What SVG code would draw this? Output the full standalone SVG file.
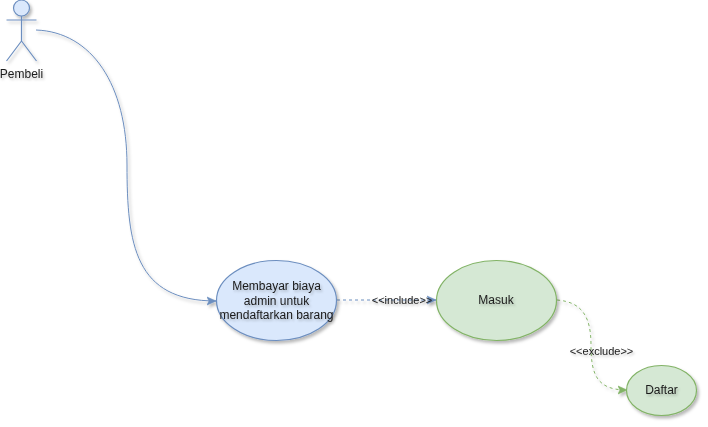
<svg xmlns="http://www.w3.org/2000/svg" width="708" height="427" viewBox="0 0 708 427">
<style>
text{font-family:"Liberation Sans",Arial,sans-serif;font-size:12px;fill:#1a1a1a;text-anchor:middle;filter:url(#ts)}
.blue{fill:#dae8fc;stroke:#6c8ebf;stroke-width:1.2;filter:url(#sh)}
.green{fill:#d5e8d4;stroke:#82b366;stroke-width:1.2;filter:url(#sh)}
.line{fill:none;filter:url(#sh)}
.small{font-size:11px}
</style>
<defs>
<filter id="sh" filterUnits="userSpaceOnUse" x="0" y="0" width="708" height="427"><feDropShadow dx="2" dy="2.5" stdDeviation="1.5" flood-color="#000" flood-opacity="0.28"/></filter>
<filter id="ts" filterUnits="userSpaceOnUse" x="0" y="0" width="708" height="427"><feDropShadow dx="1.5" dy="2" stdDeviation="1.2" flood-color="#000" flood-opacity="0.22"/></filter>
<marker id="ab" markerUnits="userSpaceOnUse" markerWidth="10" markerHeight="10" refX="9" refY="5" orient="auto"><path d="M0 1 L9 5 L0 9 L2 5 Z" fill="#6c8ebf" stroke="#6c8ebf" stroke-width="0.6"/></marker>
<marker id="ag" markerUnits="userSpaceOnUse" markerWidth="10" markerHeight="10" refX="9" refY="5" orient="auto"><path d="M0 1 L9 5 L0 9 L2 5 Z" fill="#82b366" stroke="#82b366" stroke-width="0.6"/></marker>
</defs>
<g id="connectors">
<path class="line" d="M36 30 C92 32 127 85 127 165 C127 245 135 301 216 301" stroke="#6c8ebf" stroke-width="1" marker-end="url(#ab)"/>
<path class="line" d="M337 300 L436 300" stroke="#6c8ebf" stroke-width="1" stroke-dasharray="3 3" marker-end="url(#ab)"/>
<path class="line" d="M557 300 C583 302 591 318 591 345 C591 375 597 390 627 390" stroke="#82b366" stroke-width="1" stroke-dasharray="3 3" marker-end="url(#ag)"/>
<text class="small" x="402" y="304">&lt;&lt;include&gt;&gt;</text>
<text class="small" x="601.500" y="355">&lt;&lt;exclude&gt;&gt;</text>
</g>
<g id="actor-pembeli">
<g class="line" stroke="#6c8ebf" stroke-width="1.2" fill="none">
<circle cx="21.500" cy="8" r="8" fill="#dae8fc"/>
<path d="M21.500 16 V41 M6.500 20 H36.500 M21.500 41 L6.500 61 M21.500 41 L36.500 61"/>
</g>
<text x="21.500" y="78">Pembeli</text>
</g>
<g id="node-membayar">
<ellipse class="blue" cx="276.500" cy="300.500" rx="60" ry="40"/>
<text x="276.500" y="290">Membayar biaya</text>
<text x="276.500" y="304.500">admin untuk</text>
<text x="276.500" y="319">mendaftarkan barang</text>
</g>
<g id="node-masuk">
<ellipse class="green" cx="496.500" cy="300.500" rx="60" ry="40"/>
<text x="496" y="304">Masuk</text>
</g>
<g id="node-daftar">
<ellipse class="green" cx="661.500" cy="390.500" rx="35" ry="25"/>
<text x="661.500" y="394">Daftar</text>
</g>
</svg>
